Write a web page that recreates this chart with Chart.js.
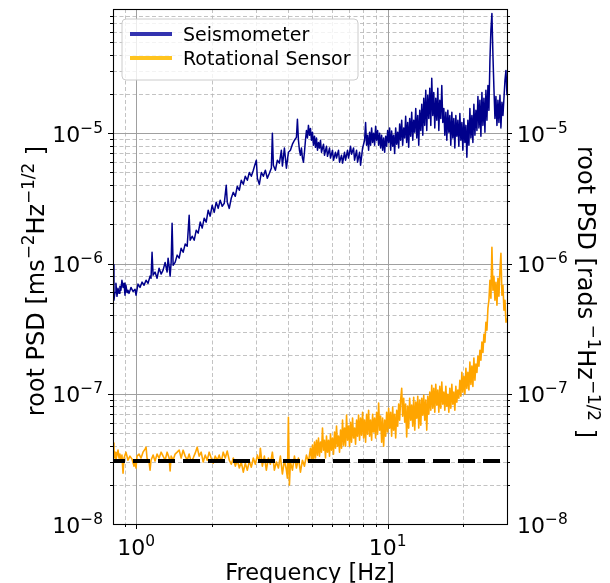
<!DOCTYPE html>
<html><head><meta charset="utf-8">
<script src="https://cdn.jsdelivr.net/npm/chart.js@4.4.0/dist/chart.umd.min.js"></script>
<style>html,body{margin:0;padding:0;background:#fff;}#wrap{width:610px;height:583px;}</style>
</head><body><div id="wrap"><canvas id="c" width="610" height="583"></canvas></div>
<script>
// ---------- DATA ----------
const seriesLabels = ['Seismometer', 'Rotational Sensor'];

const seisFreq = [
0.811,0.817,0.825,0.832,0.840,0.848,0.856,0.863,0.871,0.879,0.888,0.896,0.904,0.912,0.921,0.929,0.938,0.955,0.973,0.991,
1.000,1.018,1.037,1.057,1.076,1.096,1.116,1.137,1.147,1.158,1.169,1.190,1.212,1.235,1.258,1.281,1.305,1.329,1.341,1.354,
1.366,1.379,1.391,1.404,1.430,1.457,1.484,1.511,1.539,1.568,1.597,1.626,1.641,1.672,1.703,1.734,1.766,1.799,1.832,1.866,
1.900,1.935,1.971,2.007,2.045,2.083,2.121,2.160,2.200,2.242,2.283,2.304,2.347,2.390,2.435,2.480,2.526,2.573,2.620,2.669,
2.718,2.769,2.820,2.872,2.925,2.980,3.007,3.035,3.090,3.148,3.206,3.265,3.325,3.388,3.450,3.482,3.514,3.579,3.645,3.713,
3.781,3.816,3.887,3.959,4.032,4.107,4.183,4.261,4.339,4.379,4.420,4.461,4.502,4.543,4.585,4.627,4.670,4.713,4.756,4.800,
4.844,4.889,4.934,4.979,5.025,5.071,5.119,5.166,5.213,5.262,5.310,5.359,5.408,5.458,5.559,5.610,5.714,5.766,5.873,5.927,
6.036,6.092,6.205,6.262,6.378,6.437,6.556,6.617,6.740,6.802,6.927,6.991,7.121,7.186,7.319,7.387,7.523,7.593,7.733,7.804,
7.949,8.097,8.171,8.246,8.322,8.399,8.477,8.555,8.634,8.713,8.793,8.874,8.956,9.038,9.121,9.205,9.292,9.377,9.463,9.550,
9.638,9.728,9.817,9.907,9.998,10.09,10.18,
10.28,10.37,10.47,10.56,10.66,10.76,10.86,10.96,11.06,11.16,11.26,11.37,11.47,11.58,11.69,11.79,11.90,12.01,12.12,12.23,
12.35,12.46,12.58,12.69,12.81,12.93,13.05,13.17,13.29,13.41,13.54,13.66,13.79,13.91,14.04,14.17,14.30,14.43,14.57,14.70,
14.84,14.97,15.11,15.25,15.39,15.53,15.68,15.82,15.97,16.11,16.26,16.41,16.56,16.72,16.87,17.03,17.18,17.34,17.50,17.66,
17.82,17.99,18.15,18.32,18.49,18.66,18.83,19.01,19.18,19.36,19.54,19.72,19.90,20.08,20.27,20.46,20.64,20.83,21.03,21.22,
21.42,21.61,21.81,22.01,22.22,22.42,22.63,22.84,23.05,23.26,23.47,23.69,23.91,24.13,24.35,24.57,24.80,25.03,25.26,25.49,
25.72,25.96,26.20,26.44,26.69,26.93,27.18,27.43,27.68,27.94,28.19,28.45,28.72,28.98,29.25,29.52,29.79
];
const seisPSD = [
9.8e-7,5.23e-7,6.0e-7,7.05e-7,5.6e-7,6.45e-7,5.9e-7,6.7e-7,6.24e-7,7.44e-7,6.55e-7,7.05e-7,5.71e-7,6.81e-7,6.0e-7,6.24e-7,5.9e-7,6.55e-7,6.1e-7,6.35e-7,
5.71e-7,6.95e-7,6.55e-7,7.2e-7,6.81e-7,7.44e-7,7.05e-7,8.0e-7,7.7e-7,1.22e-6,8.13e-7,8.6e-7,7.7e-7,9.2e-7,8.3e-7,8.9e-7,1.02e-6,8.6e-7,1.1e-6,9.5e-7,
8.0e-7,1.02e-6,2.04e-6,9.7e-7,1.02e-6,1.16e-6,1.1e-6,1.31e-6,1.22e-6,1.41e-6,1.36e-6,2.35e-6,1.51e-6,1.62e-6,1.51e-6,1.80e-6,1.71e-6,2.08e-6,1.87e-6,2.23e-6,
2.08e-6,2.56e-6,2.31e-6,2.80e-6,2.47e-6,2.96e-6,2.65e-6,3.06e-6,2.75e-6,2.90e-6,3.99e-6,2.96e-6,2.65e-6,3.17e-6,3.52e-6,3.28e-6,3.92e-6,3.65e-6,4.36e-6,4.06e-6,
4.68e-6,4.36e-6,5.0e-6,4.68e-6,5.2e-6,5.9e-6,6.21e-6,4.52e-6,4.06e-6,5.0e-6,4.68e-6,5.2e-6,4.52e-6,4.93e-6,5.4e-6,1.0e-5,5.68e-6,5.2e-6,6.21e-6,5.9e-6,
7.41e-6,5.6e-6,7.7e-6,5.4e-6,7.15e-6,7.41e-6,8.25e-6,8.84e-6,9.3e-6,1.28e-5,8.84e-6,7.41e-6,6.78e-6,7.7e-6,6.45e-6,6.0e-6,7.15e-6,8.84e-6,1.05e-5,9.2e-6,
1.15e-5,9.65e-6,1.09e-5,8.84e-6,1.02e-5,8.09e-6,9.5e-6,7.8e-6,9.2e-6,7.41e-6,8.5e-6,7.7e-6,8.84e-6,7.15e-6,8.25e-6,6.78e-6,7.95e-6,6.65e-6,7.7e-6,6.45e-6,
7.41e-6,6.21e-6,7.15e-6,6.45e-6,7.41e-6,6.0e-6,6.78e-6,5.9e-6,7.15e-6,6.21e-6,7.41e-6,6.45e-6,7.95e-6,6.9e-6,7.7e-6,6.21e-6,7.41e-6,6.0e-6,7.15e-6,5.68e-6,
7.7e-6,8.84e-6,1.21e-5,8.09e-6,9.65e-6,7.41e-6,1.02e-5,8.09e-6,1.1e-5,8.5e-6,1.0e-5,8.09e-6,1.13e-5,8.84e-6,1.05e-5,8.09e-6,1.0e-5,7.7e-6,9.65e-6,7.41e-6,
9.2e-6,7.15e-6,9.5e-6,7.95e-6,1.05e-5,8.5e-6,1.1e-5,
7.41e-6,1.04e-5,7.95e-6,9.65e-6,7.0e-6,1.1e-5,8.25e-6,1.02e-5,7.7e-6,1.18e-5,8.84e-6,1.26e-5,8.09e-6,1.1e-5,9.2e-6,1.35e-5,8.5e-6,1.21e-5,7.8e-6,1.30e-5,
9.5e-6,1.45e-5,8.84e-6,1.26e-5,1.02e-5,1.55e-5,9.2e-6,1.37e-5,8.09e-6,1.50e-5,1.05e-5,1.67e-5,9.65e-6,1.86e-5,1.15e-5,2.14e-5,1.05e-5,1.96e-5,1.30e-5,2.22e-5,
1.15e-5,2.64e-5,1.37e-5,2.06e-5,1.1e-5,1.86e-5,1.26e-5,2.22e-5,1.05e-5,1.79e-5,1.30e-5,2.33e-5,1.21e-5,1.55e-5,9.65e-6,1.45e-5,8.84e-6,1.50e-5,1.02e-5,1.37e-5,
8.09e-6,1.45e-5,9.2e-6,1.30e-5,7.7e-6,1.37e-5,9.5e-6,1.26e-5,7.95e-6,1.42e-5,8.84e-6,1.21e-5,7.41e-6,1.30e-5,8.5e-6,1.15e-5,6.55e-6,1.26e-5,8.09e-6,1.55e-5,
9.2e-6,1.37e-5,8.5e-6,1.67e-5,9.65e-6,1.50e-5,1.05e-5,1.92e-5,1.1e-5,1.79e-5,9.5e-6,2.06e-5,1.15e-5,1.86e-5,1.02e-5,2.14e-5,1.26e-5,2.33e-5,1.50e-5,3.63e-5,
6.2e-5,8.3e-5,3.97e-5,2.22e-5,1.30e-5,1.92e-5,1.15e-5,1.79e-5,1.21e-5,1.96e-5,1.1e-5,1.73e-5,1.37e-5,1.86e-5,2.55e-5,3.04e-5,1.96e-5
];

const rotFreq = [
0.811,0.817,0.825,0.832,0.840,0.848,0.856,0.863,0.871,0.879,0.888,0.896,0.912,0.929,0.946,0.964,0.982,0.991,1.000,1.009,
1.028,1.047,1.066,1.086,1.096,1.106,1.127,1.137,1.147,1.169,1.190,1.212,1.235,1.258,1.281,1.305,1.329,1.354,1.366,1.379,
1.404,1.430,1.457,1.484,1.511,1.539,1.568,1.597,1.626,1.657,1.687,1.718,1.750,1.782,1.815,1.849,1.883,1.918,1.953,1.989,
2.026,2.063,2.102,2.141,2.180,2.221,2.262,2.304,2.347,2.390,2.435,2.480,2.526,2.573,2.620,2.669,2.718,2.769,2.820,2.872,
2.925,2.980,3.035,3.090,3.119,3.177,3.236,3.295,3.356,3.419,3.482,3.546,3.612,3.679,3.747,3.816,3.887,3.959,3.995,4.032,
4.070,4.107,4.183,4.261,4.339,4.420,4.502,4.585,4.670,4.756,4.844,4.934,4.979,5.025,5.071,5.119,5.166,5.213,5.262,5.310,
5.359,5.408,5.458,5.508,5.559,5.610,5.661,5.714,5.766,5.819,5.873,5.927,5.981,6.036,6.092,6.149,6.205,6.262,6.320,6.378,
6.437,6.496,6.556,6.617,6.678,6.740,6.802,6.864,6.927,6.991,7.056,7.121,7.186,7.252,7.319,7.387,7.455,7.523,7.593,7.663,
7.733,7.804,7.876,7.949,8.022,8.097,8.171,8.246,8.322,8.399,8.477,8.555,8.634,8.713,8.793,8.874,8.956,9.038,9.121,9.205,
9.292,9.377,9.463,9.550,9.638,9.728,9.817,9.907,9.998,10.09,10.18,10.28,10.37,10.47,10.56,10.66,10.76,10.86,10.96,11.06,
11.16,11.26,11.37,11.47,11.58,11.69,11.79,11.90,12.01,12.12,12.23,12.35,12.46,12.58,12.69,12.81,12.93,13.05,13.17,13.29,
13.41,13.54,13.66,13.79,13.91,14.04,14.17,14.30,14.43,14.57,14.70,14.84,14.97,15.11,15.25,15.39,15.53,15.68,15.82,15.97,
16.11,16.26,16.41,16.56,16.72,16.87,17.03,17.18,17.34,17.50,17.66,17.82,17.99,18.15,18.32,18.49,18.66,18.83,19.01,19.18,
19.36,19.54,19.72,19.90,20.08,20.27,20.46,20.64,20.83,21.03,21.22,21.42,21.61,21.81,22.01,22.22,22.42,22.63,22.84,23.05,
23.26,23.47,23.69,23.91,24.13,24.35,24.57,24.80,25.03,25.26,25.49,25.72,25.96,26.20,26.44,26.69,26.93,27.18,27.43,27.68,
27.94,28.19,28.45,28.72,28.98,29.25,29.52,29.79
];
const rotPSD = [
4.18e-8,3.21e-8,3.56e-8,3.09e-8,3.38e-8,3.69e-8,3.21e-8,3.44e-8,3.04e-8,3.38e-8,2.46e-8,3.21e-8,3.56e-8,3.09e-8,3.32e-8,3.15e-8,2.78e-8,2.99e-8,2.69e-8,3.32e-8,
3.44e-8,3.21e-8,3.56e-8,3.76e-8,3.89e-8,3.21e-8,2.99e-8,2.59e-8,3.09e-8,3.38e-8,3.04e-8,3.44e-8,3.21e-8,3.56e-8,3.32e-8,3.09e-8,3.56e-8,3.21e-8,2.55e-8,3.32e-8,
3.09e-8,3.44e-8,3.56e-8,3.69e-8,3.21e-8,3.69e-8,3.32e-8,3.09e-8,3.44e-8,2.99e-8,3.21e-8,3.50e-8,3.89e-8,3.32e-8,3.56e-8,2.99e-8,3.38e-8,3.09e-8,3.56e-8,3.21e-8,
2.93e-8,3.32e-8,3.09e-8,3.38e-8,2.99e-8,3.56e-8,3.21e-8,3.63e-8,3.09e-8,2.88e-8,3.21e-8,2.78e-8,3.09e-8,2.69e-8,2.99e-8,2.50e-8,2.93e-8,2.59e-8,3.04e-8,2.73e-8,
3.21e-8,2.88e-8,3.38e-8,2.99e-8,3.82e-8,2.78e-8,3.32e-8,2.59e-8,3.21e-8,2.88e-8,3.56e-8,2.59e-8,2.99e-8,2.69e-8,3.32e-8,2.42e-8,3.09e-8,2.59e-8,2.25e-8,6.61e-8,
1.99e-8,2.99e-8,2.59e-8,3.32e-8,2.69e-8,3.21e-8,2.50e-8,3.09e-8,2.78e-8,3.38e-8,2.99e-8,3.82e-8,3.09e-8,4.03e-8,2.99e-8,4.25e-8,3.21e-8,4.40e-8,3.38e-8,4.57e-8,
3.32e-8,4.25e-8,3.56e-8,5.45e-8,3.69e-8,4.40e-8,3.21e-8,4.73e-8,3.56e-8,4.40e-8,3.32e-8,4.90e-8,3.69e-8,4.57e-8,3.44e-8,5.08e-8,3.82e-8,5.64e-8,3.96e-8,4.73e-8,
3.56e-8,5.26e-8,3.82e-8,6.27e-8,4.03e-8,5.45e-8,3.96e-8,6.85e-8,4.40e-8,5.64e-8,3.96e-8,6.05e-8,4.25e-8,6.50e-8,4.57e-8,5.45e-8,4.10e-8,6.27e-8,4.73e-8,6.85e-8,
4.40e-8,6.50e-8,4.81e-8,7.22e-8,4.57e-8,6.27e-8,4.25e-8,6.97e-8,4.90e-8,7.48e-8,4.73e-8,6.27e-8,4.40e-8,6.97e-8,5.08e-8,6.50e-8,4.57e-8,7.22e-8,4.90e-8,8.47e-8,
5.26e-8,6.73e-8,4.25e-8,6.50e-8,3.96e-8,6.27e-8,4.73e-8,7.22e-8,5.08e-8,7.75e-8,5.45e-8,7.22e-8,4.73e-8,7.89e-8,5.26e-8,6.97e-8,4.57e-8,7.48e-8,5.64e-8,8.32e-8,
6.27e-8,8.93e-8,1.10e-7,6.73e-8,9.24e-8,6.05e-8,8.32e-8,4.65e-8,8.03e-8,5.45e-8,9.24e-8,6.27e-8,8.18e-8,5.64e-8,9.41e-8,5.26e-8,8.62e-8,6.50e-8,9.58e-8,5.45e-8,
8.93e-8,5.74e-8,9.24e-8,6.85e-8,9.75e-8,6.27e-8,8.93e-8,5.26e-8,9.58e-8,6.97e-8,1.03e-7,7.48e-8,1.16e-7,7.75e-8,1.10e-7,7.22e-8,1.18e-7,8.18e-8,1.07e-7,7.22e-8,
1.14e-7,7.75e-8,1.23e-7,8.32e-8,1.03e-7,7.48e-8,1.14e-7,8.03e-8,9.92e-8,7.22e-8,1.10e-7,7.75e-8,1.18e-7,8.32e-8,1.03e-7,7.48e-8,1.14e-7,8.62e-8,1.07e-7,9.24e-8,
1.27e-7,9.58e-8,1.46e-7,1.03e-7,1.36e-7,9.92e-8,1.57e-7,1.10e-7,1.46e-7,1.07e-7,1.75e-7,1.18e-7,1.63e-7,1.14e-7,1.88e-7,1.27e-7,1.69e-7,1.46e-7,1.94e-7,1.63e-7,
2.16e-7,1.81e-7,2.49e-7,2.08e-7,2.86e-7,2.49e-7,3.54e-7,3.08e-7,4.54e-7,5.23e-7,7.44e-7,5.42e-7,1.33e-6,6.24e-7,7.99e-7,5.23e-7,7.19e-7,4.79e-7,7.7e-7,5.61e-7,
8.9e-7,1.20e-6,5.71e-7,6.81e-7,4.38e-7,5.23e-7,3.54e-7,3.80e-7
];

const floorFreq = [0.81, 29.8];
const floorPSD = [3.05e-8, 3.05e-8];

const xRange = [0.81, 29.8];
const yRange = [1e-8, 9e-5];
const xTickValues = [1, 10];
const xTickLabels = [['10', '0'], ['10', '1']];
const yTickValues = [1e-8, 1e-7, 1e-6, 1e-5];
const yTickLabels = [['10', '\u22128'], ['10', '\u22127'], ['10', '\u22126'], ['10', '\u22125']];
const xTitle = 'Frequency [Hz]';
const yTitleLeft = [['root PSD [ms', 0], ['\u22122', 1], ['Hz', 0], ['\u22121/2', 1], [' ]', 0]];
const yTitleRight = [['root PSD [rads', 0], [' \u22121', 1], ['Hz', 0], ['\u22121/2', 1], [' ]', 0]];

// ---------- HELPERS ----------
const FONT = '"DejaVu Sans", sans-serif';
function setFont(ctx, size) { ctx.font = size + 'px ' + FONT; }
function richW(ctx, segs, size) {
  let w = 0;
  for (const [t, s] of segs) { setFont(ctx, s ? size * 0.7 : size); w += ctx.measureText(t).width; }
  return w;
}
function drawRich(ctx, segs, x, y, size) {
  let cx = x;
  ctx.textAlign = 'left'; ctx.textBaseline = 'alphabetic';
  for (const [t, s] of segs) {
    const fs = s ? size * 0.7 : size;
    setFont(ctx, fs);
    ctx.fillText(t, cx, s ? y - size * 0.4 : y);
    cx += ctx.measureText(t).width;
  }
}
function gridValues(min, max) {
  const out = [];
  for (let e = -9; e <= 3; e++) for (let m = 1; m <= 9; m++) {
    const v = m * Math.pow(10, e);
    if (v > min * 1.0001 && v < max * 0.9999) out.push({ v, major: m === 1 });
  }
  return out;
}

const mplAxes = {
  id: 'mplAxes',
  beforeDatasetsDraw(chart) {
    const { ctx, chartArea: a, scales } = chart;
    const xs = gridValues(xRange[0], xRange[1]);
    const ys = gridValues(yRange[0], yRange[1]);
    ctx.save();
    ctx.setLineDash([4, 2.5]);
    ctx.strokeStyle = '#b4b4b4'; ctx.lineWidth = 0.8;
    ctx.beginPath();
    xs.filter(g => !g.major).forEach(g => { const p = Math.round(scales.x.getPixelForValue(g.v)) + 0.5; ctx.moveTo(p, a.top); ctx.lineTo(p, a.bottom); });
    ys.filter(g => !g.major).forEach(g => { const p = Math.round(scales.y.getPixelForValue(g.v)) + 0.5; ctx.moveTo(a.left, p); ctx.lineTo(a.right, p); });
    ctx.stroke();
    ctx.setLineDash([]);
    ctx.strokeStyle = '#a0a0a0'; ctx.lineWidth = 1;
    ctx.beginPath();
    xs.filter(g => g.major).forEach(g => { const p = Math.round(scales.x.getPixelForValue(g.v)) + 0.5; ctx.moveTo(p, a.top); ctx.lineTo(p, a.bottom); });
    ys.filter(g => g.major).forEach(g => { const p = Math.round(scales.y.getPixelForValue(g.v)) + 0.5; ctx.moveTo(a.left, p); ctx.lineTo(a.right, p); });
    ctx.stroke();
    ctx.restore();
  },
  afterDatasetsDraw(chart) {
    const { ctx, chartArea: a, scales } = chart;
    const xs = gridValues(xRange[0], xRange[1]);
    const ys = gridValues(yRange[0], yRange[1]);
    ctx.save();
    ctx.setLineDash([]);
    ctx.strokeStyle = '#000'; ctx.lineWidth = 1.1;
    ctx.strokeRect(Math.round(a.left) + 0.5, Math.round(a.top) + 0.5, Math.round(a.right - a.left), Math.round(a.bottom - a.top));
    ctx.beginPath();
    xs.forEach(g => { const p = Math.round(scales.x.getPixelForValue(g.v)) + 0.5; const L = g.major ? 5 : 3; ctx.moveTo(p, a.bottom); ctx.lineTo(p, a.bottom + L); });
    ys.forEach(g => {
      const p = Math.round(scales.y.getPixelForValue(g.v)) + 0.5; const L = g.major ? 5 : 3;
      ctx.moveTo(a.left - L, p); ctx.lineTo(a.left, p);
      const p2 = Math.round(scales.y2.getPixelForValue(g.v)) + 0.5;
      ctx.moveTo(a.right, p2); ctx.lineTo(a.right + L, p2);
    });
    ctx.lineWidth = 1; ctx.stroke();
    ctx.fillStyle = '#000';
    const TS = 22;
    yTickValues.forEach((v, i) => {
      const segs = [[yTickLabels[i][0], 0], [yTickLabels[i][1], 1]];
      const w = richW(ctx, segs, TS);
      const p = scales.y.getPixelForValue(v);
      drawRich(ctx, segs, a.left - 10 - w, p + 8.5, TS);
      const p2 = scales.y2.getPixelForValue(v);
      drawRich(ctx, segs, a.right + 10, p2 + 8.5, TS);
    });
    xTickValues.forEach((v, i) => {
      const segs = [[xTickLabels[i][0], 0], [xTickLabels[i][1], 1]];
      const w = richW(ctx, segs, TS);
      const p = scales.x.getPixelForValue(v);
      drawRich(ctx, segs, p - w / 2, a.bottom + 31, TS);
    });
    const AS = 22.5, YS = 24;
    setFont(ctx, AS); ctx.textAlign = 'center'; ctx.textBaseline = 'alphabetic';
    ctx.fillText(xTitle, (a.left + a.right) / 2, 580);
    let w = richW(ctx, yTitleLeft, YS);
    ctx.save(); ctx.translate(44, 281); ctx.rotate(-Math.PI / 2); drawRich(ctx, yTitleLeft, -w / 2, 0, YS); ctx.restore();
    w = richW(ctx, yTitleRight, YS);
    ctx.save(); ctx.translate(578, 292); ctx.rotate(Math.PI / 2); drawRich(ctx, yTitleRight, -w / 2, 0, YS); ctx.restore();
    // legend
    const lx = a.left + 9, ly = a.top + 10, lw = 236, lh = 61, r = 4;
    ctx.beginPath();
    ctx.moveTo(lx + r, ly); ctx.lineTo(lx + lw - r, ly); ctx.arcTo(lx + lw, ly, lx + lw, ly + r, r);
    ctx.lineTo(lx + lw, ly + lh - r); ctx.arcTo(lx + lw, ly + lh, lx + lw - r, ly + lh, r);
    ctx.lineTo(lx + r, ly + lh); ctx.arcTo(lx, ly + lh, lx, ly + lh - r, r);
    ctx.lineTo(lx, ly + r); ctx.arcTo(lx, ly, lx + r, ly, r); ctx.closePath();
    ctx.fillStyle = 'rgba(255,255,255,0.8)'; ctx.fill();
    ctx.strokeStyle = '#cccccc'; ctx.lineWidth = 1; ctx.stroke();
    const handleColors = ['#3333b0', '#ffc41f'];
    seriesLabels.forEach((lab, i) => {
      const yy = ly + 15 + i * 24;
      ctx.strokeStyle = handleColors[i]; ctx.lineWidth = 4; ctx.lineCap = 'butt';
      ctx.beginPath(); ctx.moveTo(lx + 8, yy); ctx.lineTo(lx + 50, yy); ctx.stroke();
      ctx.fillStyle = '#000'; setFont(ctx, 19); ctx.textAlign = 'left'; ctx.textBaseline = 'alphabetic';
      ctx.fillText(lab, lx + 61, yy + 7);
    });
    ctx.restore();
  }
};

const toPts = (fx, vy) => fx.map((f, i) => ({ x: f, y: vy[i] }));

new Chart(document.getElementById('c'), {
  type: 'line',
  data: {
    datasets: [
      { label: 'floor', data: toPts(floorFreq, floorPSD), borderColor: '#000', borderWidth: 4, borderDash: [17, 8], borderDashOffset: 5, borderCapStyle: 'butt', pointRadius: 0, order: 0 },
      { label: seriesLabels[1], data: toPts(rotFreq, rotPSD), borderColor: '#ffa500', borderWidth: 1.6, borderJoinStyle: 'round', pointRadius: 0, order: 1 },
      { label: seriesLabels[0], data: toPts(seisFreq, seisPSD), borderColor: '#00008b', borderWidth: 1.5, borderJoinStyle: 'round', pointRadius: 0, order: 2 }
    ]
  },
  options: {
    responsive: false, animation: false, devicePixelRatio: 1,
    layout: { padding: { top: 9, left: 0, right: 0, bottom: 0 } },
    plugins: { legend: { display: false }, tooltip: { enabled: false } },
    scales: {
      x: { type: 'logarithmic', min: xRange[0], max: xRange[1], ticks: { display: false }, grid: { display: false }, border: { display: false }, afterFit: s => { s.height = 59; } },
      y: { type: 'logarithmic', position: 'left', min: yRange[0], max: yRange[1], ticks: { display: false }, grid: { display: false }, border: { display: false }, afterFit: s => { s.width = 113; } },
      y2: { type: 'logarithmic', position: 'right', min: yRange[0], max: yRange[1], ticks: { display: false }, grid: { display: false }, border: { display: false }, afterFit: s => { s.width = 103; } }
    }
  },
  plugins: [mplAxes]
});
</script></body></html>
